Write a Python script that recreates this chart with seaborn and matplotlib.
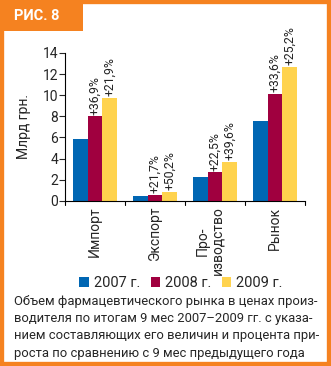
import matplotlib
matplotlib.use("Agg")
import matplotlib.pyplot as plt
import matplotlib.patches as mpatches
import seaborn as sns
import pandas as pd

categories = ["Импорт", "Экспорт", "Про-\nизводство", "Рынок"]
years = ["2007 г.", "2008 г.", "2009 г."]
v2007 = [5.85, 0.45, 2.25, 7.6]
v2008 = [8.0, 0.55, 2.7, 10.15]
v2009 = [9.75, 0.82, 3.7, 12.7]
growth2008 = ["+36,9%", "+21,7%", "+22,5%", "+33,6%"]
growth2009 = ["+21,9%", "+50,2%", "+39,6%", "+25,2%"]
yticks = [0, 2, 4, 6, 8, 10, 12, 14]
caption = ("Объем фармацевтического рынка в ценах произ-\n"
           "водителя по итогам 9 мес 2007–2009 гг. с указа-\n"
           "нием составляющих его величин и процента при-\n"
           "роста по сравнению с 9 мес предыдущего года")

colors = ["#0066B3", "#A0003F", "#FFD34E"]
orange = "#F58220"

sns.set_style("white")
plt.rcParams["font.family"] = ["Roboto", "DejaVu Sans"]

rows = []
for y, vals in zip(years, [v2007, v2008, v2009]):
    for c, v in zip(categories, vals):
        rows.append({"cat": c, "year": y, "val": v})
df = pd.DataFrame(rows)

W, H = 331, 366
fig = plt.figure(figsize=(W / 100, H / 100), dpi=100)
fig.patch.set_facecolor("white")

# orange frame
fig.patches.append(mpatches.Rectangle((0, 0), 1, 1, transform=fig.transFigure,
                                      fill=False, edgecolor=orange, linewidth=6, zorder=0))
fig.patches.append(mpatches.Rectangle((0, 1 - 31 / H), 83 / W, 31 / H, transform=fig.transFigure,
                                      facecolor=orange, edgecolor="none", zorder=1))
fig.text(14 / W, 1 - 16 / H, "РИС. 8", color="white", fontsize=10.5, fontweight="bold",
         ha="left", va="center")

ax = fig.add_axes([65 / W, 1 - 200.7 / H, 240 / W, 147.7 / H])
sns.barplot(data=df, x="cat", y="val", hue="year", palette=colors, width=0.72,
            saturation=1, ax=ax, edgecolor="none", linewidth=0)
ax.set_ylim(0, 14)
ax.set_xlim(-0.5, 3.5)
ax.set_yticks(yticks)
ax.set_yticklabels([str(t) for t in yticks], fontsize=10)
ax.set_xticks([])
ax.set_xticklabels([])
for i, c in enumerate(categories):
    ax.text(i - (0.08 if "\n" in c else 0), -0.04, c, transform=ax.get_xaxis_transform(),
            rotation=90, ha="center", va="top", fontsize=10, multialignment="center",
            linespacing=1.05)
for b in [-0.5, 0.5, 1.5, 2.5, 3.5]:
    ax.plot([b, b], [0, -0.03], transform=ax.get_xaxis_transform(), color="black",
            lw=0.8, clip_on=False)
ax.tick_params(axis="y", left=True, length=4, width=0.8, pad=1)
ax.set_xlabel("")
ax.set_ylabel("Млрд грн.", fontsize=10, labelpad=8)
for s in ["top", "right"]:
    ax.spines[s].set_visible(False)
for s in ["left", "bottom"]:
    ax.spines[s].set_color("black")
    ax.spines[s].set_linewidth(0.8)

for cont, labels in zip(ax.containers[1:], [growth2008, growth2009]):
    for p, lab in zip(cont.patches, labels):
        ax.text(p.get_x() + p.get_width() / 2, p.get_height() + 0.15, lab, rotation=90,
                ha="center", va="bottom", fontsize=8.8, color="#222222")

sns.move_legend(ax, "center", bbox_to_anchor=(181 / W, 1 - 283 / H),
                bbox_transform=fig.transFigure, ncol=3, frameon=False, title=None,
                fontsize=10.5, handlelength=0.65, handleheight=0.65, handletextpad=0.35,
                columnspacing=0.7)

fig.text(14 / W, 1 - 295 / H, caption, fontsize=9.4, ha="left", va="top", linespacing=1.42)

fig.savefig("out.png", dpi=100)
